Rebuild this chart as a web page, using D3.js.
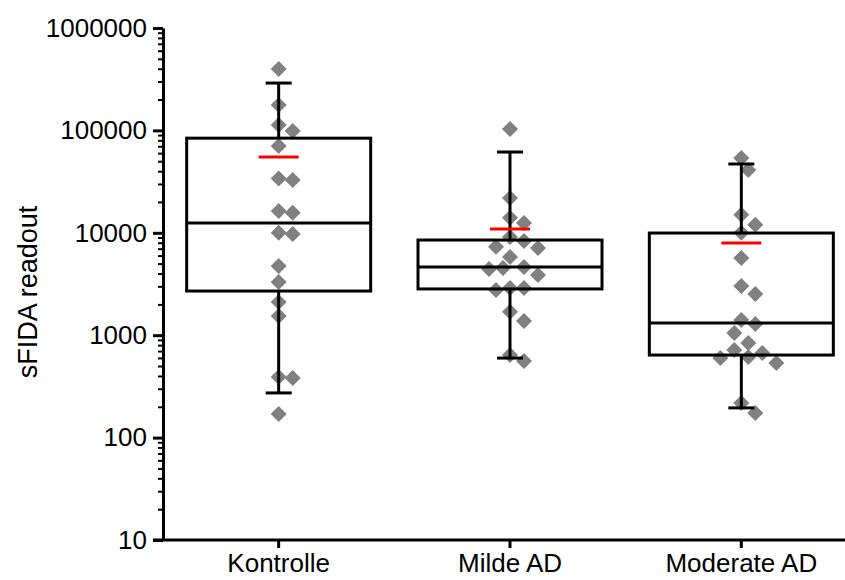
<!DOCTYPE html>
<html>
<head>
<meta charset="utf-8">
<script src="https://cdn.jsdelivr.net/npm/d3@7"></script>
<style>
    body { margin: 0; background: #fff; }
    #chart { width: 845px; height: 580px; }
    text { font-family: "Liberation Sans", Arial, sans-serif; fill: #000; }
</style>
</head>
<body>
<div id="chart"></div>
<script>
// groups and raw points
const groups = ["Kontrolle", "Milde AD", "Moderate AD"];

const kontrolle = [398000, 177000, 113000, 98600, 70500, 34000, 32800, 16300, 15700,
    10000, 9720, 4740, 3310, 2110, 1540, 390, 382, 170];
const mildeAD = [103000, 21900, 14000, 12500, 9100, 8320, 7300, 7110, 5810, 4640, 4530,
    4430, 3870, 2890, 2890, 2760, 1690, 1380, 641, 560];
const moderateAD = [53700, 41000, 15000, 12000, 10000, 5680, 3020, 2520, 1406, 1285,
    1050, 840, 716, 670, 612, 600, 535, 218, 174];

// box summary per group
const q1 = [2700, 2830, 640];
const median = [12500, 4640, 1315];
const q3 = [84000, 8500, 9950];
const whiskerLow = [273, 598, 195];
const whiskerHigh = [290000, 61500, 47000];
const mean = [55000, 10900, 7950];

// axis ticks
const majorTicks = [10, 100, 1000, 10000, 100000, 1000000];

class BoxVis {
    constructor(parentElement) {
        this.parentElement = parentElement;
        this.initVis();
    }

    initVis() {
        let vis = this;

        vis.margin = { top: 28, right: 0, bottom: 40, left: 163 };
        vis.width = 845 - vis.margin.left - vis.margin.right;
        vis.height = 580 - vis.margin.top - vis.margin.bottom;

        vis.svg = d3.select("#" + vis.parentElement).append("svg")
            .attr("width", 845)
            .attr("height", 580)
            .append("g")
            .attr("transform", "translate(" + vis.margin.left + "," + vis.margin.top + ")");

        vis.x = d3.scaleBand()
            .domain(groups)
            .range([0, 694]);

        vis.y = d3.scaleLog()
            .domain([10, 1000000])
            .range([vis.height, 0]);

        vis.wrangleData();
    }

    wrangleData() {
        let vis = this;

        let raw = [kontrolle, mildeAD, moderateAD];
        vis.points = [];

        // simple beeswarm so diamonds don't sit on top of each other
        raw.forEach((vals, gi) => {
            let placed = [];
            vals.slice().sort((a, b) => b - a).forEach(v => {
                let py = vis.y(v);
                let k = 0, px = 0;
                while (true) {
                    let off = (k === 0) ? 0 : Math.ceil(k / 2) * 7 * (k % 2 ? 1 : -1);
                    let ok = placed.every(p => Math.hypot(p.dx - off, p.py - py) >= 13);
                    if (ok) { px = off; break; }
                    k++;
                }
                placed.push({ dx: px, py: py });
                vis.points.push({ group: groups[gi], value: v, dx: px });
            });
        });

        vis.boxes = groups.map((g, i) => ({
            group: g, q1: q1[i], median: median[i], q3: q3[i],
            lo: whiskerLow[i], hi: whiskerHigh[i], mean: mean[i]
        }));

        vis.updateVis();
    }

    updateVis() {
        let vis = this;
        let cx = g => vis.x(g) + vis.x.bandwidth() / 2;
        let halfBox = 92, halfCap = 13, halfMean = 20;

        // minor ticks
        let minors = [];
        majorTicks.slice(0, -1).forEach(t => {
            for (let m = 2; m <= 9; m++) minors.push(t * m);
        });

        vis.svg.append("g")
            .attr("class", "y-minor")
            .call(d3.axisLeft(vis.y).tickValues(minors).tickSize(5).tickSizeOuter(0).tickFormat(""))
            .call(g => g.select(".domain").remove())
            .selectAll("line").attr("stroke-width", 2);

        vis.svg.append("g")
            .attr("class", "y-axis axis")
            .call(d3.axisLeft(vis.y).tickValues(majorTicks).tickSize(10).tickSizeOuter(0)
                .tickPadding(6).tickFormat(d3.format("d")))
            .call(g => g.select(".domain").attr("stroke-width", 3))
            .call(g => g.selectAll("line").attr("stroke-width", 3))
            .call(g => g.selectAll("text").attr("font-size", 26).attr("font-family", null));

        vis.svg.append("g")
            .attr("class", "x-axis axis")
            .attr("transform", "translate(0," + vis.height + ")")
            .call(d3.axisBottom(vis.x).tickSize(8).tickSizeOuter(0).tickPadding(6))
            .call(g => g.select(".domain").attr("stroke-width", 3).attr("d", "M-10,0H700"))
            .call(g => g.selectAll("line").attr("stroke-width", 3))
            .call(g => g.selectAll("text").attr("font-size", 26).attr("font-family", null));

        // y title
        vis.svg.append("text")
            .attr("transform", "translate(" + (37 - vis.margin.left) + "," + (292 - vis.margin.top) + ") rotate(-90)")
            .attr("text-anchor", "middle")
            .attr("font-size", 27)
            .text("sFIDA readout");

        // points (under the boxes)
        let diamond = "M0,-8L8,0L0,8L-8,0Z";
        vis.svg.selectAll(".dot")
            .data(vis.points)
            .enter().append("path")
            .attr("class", "dot")
            .attr("d", diamond)
            .attr("transform", d => "translate(" + (cx(d.group) + d.dx) + "," + vis.y(d.value) + ")")
            .attr("fill", "#808080");

        let box = vis.svg.selectAll(".box")
            .data(vis.boxes)
            .enter().append("g")
            .attr("class", "box")
            .attr("stroke", "#000")
            .attr("stroke-width", 3)
            .attr("fill", "none");

        box.append("rect")
            .attr("x", d => cx(d.group) - halfBox)
            .attr("width", halfBox * 2)
            .attr("y", d => vis.y(d.q3))
            .attr("height", d => vis.y(d.q1) - vis.y(d.q3));

        box.append("line")
            .attr("x1", d => cx(d.group) - halfBox)
            .attr("x2", d => cx(d.group) + halfBox)
            .attr("y1", d => vis.y(d.median))
            .attr("y2", d => vis.y(d.median));

        // whiskers
        box.append("line")
            .attr("x1", d => cx(d.group)).attr("x2", d => cx(d.group))
            .attr("y1", d => vis.y(d.q3)).attr("y2", d => vis.y(d.hi));
        box.append("line")
            .attr("x1", d => cx(d.group)).attr("x2", d => cx(d.group))
            .attr("y1", d => vis.y(d.q1)).attr("y2", d => vis.y(d.lo));
        box.append("line")
            .attr("x1", d => cx(d.group) - halfCap).attr("x2", d => cx(d.group) + halfCap)
            .attr("y1", d => vis.y(d.hi)).attr("y2", d => vis.y(d.hi));
        box.append("line")
            .attr("x1", d => cx(d.group) - halfCap).attr("x2", d => cx(d.group) + halfCap)
            .attr("y1", d => vis.y(d.lo)).attr("y2", d => vis.y(d.lo));

        // mean
        box.append("line")
            .attr("stroke", "#ff0000")
            .attr("x1", d => cx(d.group) - halfMean).attr("x2", d => cx(d.group) + halfMean)
            .attr("y1", d => vis.y(d.mean)).attr("y2", d => vis.y(d.mean));
    }
}

new BoxVis("chart");
</script>
</body>
</html>
